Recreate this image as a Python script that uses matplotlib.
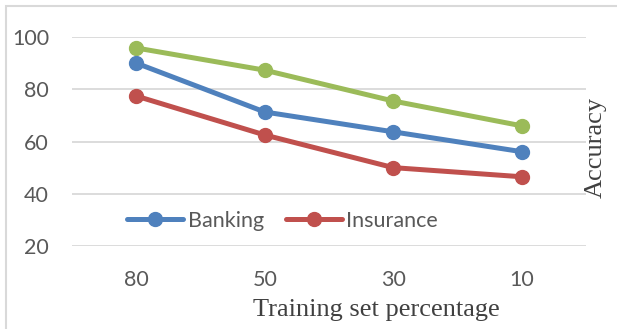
import matplotlib
matplotlib.use("Agg")
import matplotlib.pyplot as plt
from matplotlib.patches import Rectangle

categories = ["80", "50", "30", "10"]
banking = [90, 71.3, 63.7, 56.1]
insurance = [77.4, 62.5, 50, 46.5]
third = [95.8, 87.3, 75.5, 66]
yticks = [20, 40, 60, 80, 100]

W, H = 617, 329
fig = plt.figure(figsize=(W / 100, H / 100), dpi=100)
fig.patch.set_facecolor("white")

# chart border (cropped at right/bottom)
fig.patches.append(Rectangle((6 / W, -0.1), 1.2, (1 - 6 / H) + 0.1,
                             transform=fig.transFigure, fill=False,
                             edgecolor="#D9D9D9", linewidth=1.5))

ax = fig.add_axes([72 / W, 1 - 246 / H, (586 - 72) / W, (246 - 37) / H])
x = [i + 0.5 for i in range(len(categories))]

lw = 3.6
ms = 10
ax.plot(x, third, color="#9BBB59", lw=lw, marker="o", ms=ms, solid_capstyle="round", zorder=3)
ax.plot(x, banking, color="#4F81BD", lw=lw, marker="o", ms=ms, label="Banking", solid_capstyle="round", zorder=3)
ax.plot(x, insurance, color="#C0504D", lw=lw, marker="o", ms=ms, label="Insurance", solid_capstyle="round", zorder=3)

ax.set_xlim(0, len(categories))
ax.set_ylim(20, 100)
ax.set_yticks(yticks)
ax.set_xticks(x)
ax.set_xticklabels(categories)
ax.grid(axis="y", color="#D9D9D9", linewidth=1.3)
ax.set_axisbelow(True)
for s in ax.spines.values():
    s.set_visible(False)
ax.tick_params(length=0, labelsize=15.5, labelcolor="#595959")
for lab in ax.get_xticklabels() + ax.get_yticklabels():
    lab.set_family("Lato")
ax.tick_params(axis="x", pad=17)
ax.tick_params(axis="y", pad=16.5)

fig.text(376 / W, 1 - 310 / H, "Training set percentage", family="Liberation Serif",
         fontsize=19, color="#404040", ha="center", va="center")
fig.text(596 / W, 1 - 147 / H, "Accuracy", family="Liberation Serif",
         fontsize=19, color="#404040", ha="center", va="center", rotation=90)

leg = ax.legend(loc="center left", bbox_to_anchor=((127 - 72) / 514, (221 - 246) / (37 - 246)),
                ncol=2, frameon=False, prop={"family": "Lato", "size": 15.5},
                handlelength=2.6, handletextpad=0.23, columnspacing=1.0,
                borderaxespad=0, borderpad=0)
for t in leg.get_texts():
    t.set_color("#595959")

fig.savefig("out.png", dpi=100)
